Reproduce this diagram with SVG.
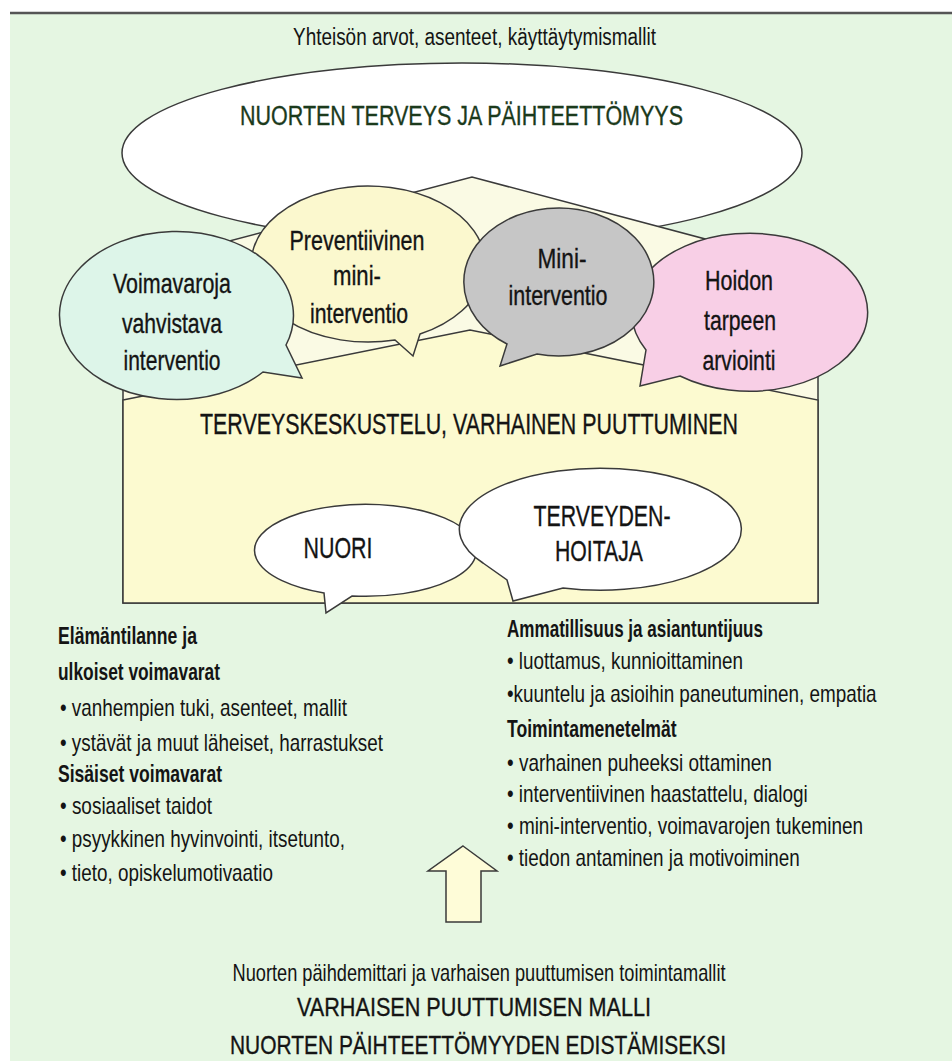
<svg xmlns="http://www.w3.org/2000/svg" width="952" height="1061" viewBox="0 0 952 1061">
<style>
.t{font-family:"Liberation Sans Narrow","Arial Narrow","Liberation Sans",Arial,sans-serif;fill:#141414}
.h{stroke:#141414;stroke-width:0.35}
.s{stroke:#3a3a3a;stroke-width:1.5}
.c{text-anchor:middle}
.f23{font-size:23px}
.f24{font-size:24px}
.f26{font-size:26px}
.f27{font-size:27px}
.f28{font-size:28px}
.f29{font-size:29px}
.f30{font-size:30px}
.b{font-weight:bold}
</style>
<g id="background">
<rect x="0" y="0" width="952" height="1061" fill="#ffffff"/>
<rect x="10" y="14" width="942" height="1047" fill="#E5F6E2"/>
<line x1="10" y1="13" x2="952" y2="13" stroke="#555555" stroke-width="2.5"/>
<text class="t c f23" x="474.5" y="45" textLength="363" lengthAdjust="spacingAndGlyphs">Yhteisön arvot, asenteet, käyttäytymismallit</text>
</g>
<g id="node-terveys">
<ellipse cx="462" cy="153" rx="340" ry="90" fill="#ffffff" class="s"/>
<text class="t c f27 h" x="461.5" y="125" textLength="443" lengthAdjust="spacingAndGlyphs" style="fill:#1B3A1C;stroke:#1B3A1C">NUORTEN TERVEYS JA PÄIHTEETTÖMYYS</text>
</g>
<g id="node-house">
<polygon points="123,269 472,177 818,269 818,603 123,603" fill="#FAFAE4" class="s"/>
<polygon points="123,400 470,330 818,400 818,603 123,603" fill="#FCFAD0" class="s"/>
<text class="t c f29 h" x="469" y="434" textLength="538" lengthAdjust="spacingAndGlyphs">TERVEYSKESKUSTELU, VARHAINEN PUUTTUMINEN</text>
</g>
<g id="node-preventiivinen">
<path d="M 420,334 A 117 78 0 1 0 395,340 L 413,356 Z" fill="#FBF8CE" class="s"/>
<text class="t c f28 h" x="357" y="250" textLength="135" lengthAdjust="spacingAndGlyphs">Preventiivinen</text>
<text class="t c f28 h" x="357" y="285" textLength="48" lengthAdjust="spacingAndGlyphs">mini-</text>
<text class="t c f28 h" x="359" y="323" textLength="98" lengthAdjust="spacingAndGlyphs">interventio</text>
</g>
<g id="node-voimavaroja">
<path d="M 286,345 A 117 84 0 1 0 263,372 L 302,378 Z" fill="#DDF5E9" class="s"/>
<text class="t c f28 h" x="172" y="293" textLength="118" lengthAdjust="spacingAndGlyphs">Voimavaroja</text>
<text class="t c f28 h" x="172" y="333" textLength="100" lengthAdjust="spacingAndGlyphs">vahvistava</text>
<text class="t c f28 h" x="172" y="370" textLength="97" lengthAdjust="spacingAndGlyphs">interventio</text>
</g>
<g id="node-hoidon">
<path d="M 680,376 A 118 79 0 1 0 646,350 L 640,386 Z" fill="#F8CFE6" class="s"/>
<text class="t c f28 h" x="739" y="290" textLength="68" lengthAdjust="spacingAndGlyphs">Hoidon</text>
<text class="t c f28 h" x="740" y="330" textLength="72" lengthAdjust="spacingAndGlyphs">tarpeen</text>
<text class="t c f28 h" x="739" y="370" textLength="73" lengthAdjust="spacingAndGlyphs">arviointi</text>
</g>
<g id="node-mini">
<path d="M 537,354 A 95 74 0 1 0 507,344 L 500,366 Z" fill="#C6C6C6" class="s"/>
<text class="t c f28 h" x="562" y="268" textLength="49" lengthAdjust="spacingAndGlyphs">Mini-</text>
<text class="t c f28 h" x="558" y="305" textLength="99" lengthAdjust="spacingAndGlyphs">interventio</text>
</g>
<g id="node-nuori">
<path d="M 352,596 A 111 46 0 1 0 324,593 L 326,613 Z" fill="#ffffff" class="s"/>
<text class="t c f30 h" x="338" y="558" textLength="69" lengthAdjust="spacingAndGlyphs">NUORI</text>
</g>
<g id="node-terveydenhoitaja">
<path d="M 563,588 A 141 61 0 1 0 483,563 L 507,580 L 513,601 Z" fill="#ffffff" class="s"/>
<text class="t c f30 h" x="602" y="526" textLength="137" lengthAdjust="spacingAndGlyphs">TERVEYDEN-</text>
<text class="t c f30 h" x="599" y="561" textLength="88" lengthAdjust="spacingAndGlyphs">HOITAJA</text>
</g>
<g id="text-left">
<text class="t f24 b" x="58" y="644" textLength="139" lengthAdjust="spacingAndGlyphs">Elämäntilanne ja</text>
<text class="t f24 b" x="58" y="680" textLength="162" lengthAdjust="spacingAndGlyphs">ulkoiset voimavarat</text>
<text class="t f24" x="60" y="716" textLength="287" lengthAdjust="spacingAndGlyphs">• vanhempien tuki, asenteet, mallit</text>
<text class="t f24" x="60" y="751" textLength="323" lengthAdjust="spacingAndGlyphs">• ystävät ja muut läheiset, harrastukset</text>
<text class="t f24 b" x="58" y="782" textLength="164" lengthAdjust="spacingAndGlyphs">Sisäiset voimavarat</text>
<text class="t f24" x="60" y="814" textLength="152" lengthAdjust="spacingAndGlyphs">• sosiaaliset taidot</text>
<text class="t f24" x="60" y="847" textLength="285" lengthAdjust="spacingAndGlyphs">• psyykkinen hyvinvointi, itsetunto,</text>
<text class="t f24" x="60" y="881" textLength="213" lengthAdjust="spacingAndGlyphs">• tieto, opiskelumotivaatio</text>
</g>
<g id="text-right" transform="translate(507,0) scale(0.8,1)">
<text class="t f24 b" x="0" y="637" textLength="320" lengthAdjust="spacingAndGlyphs">Ammatillisuus ja asiantuntijuus</text>
<text class="t f24" x="0" y="669" textLength="295" lengthAdjust="spacingAndGlyphs">• luottamus, kunnioittaminen</text>
<text class="t f24" x="0" y="702" textLength="462" lengthAdjust="spacingAndGlyphs">•kuuntelu ja asioihin paneutuminen, empatia</text>
<text class="t f24 b" x="0" y="737" textLength="212" lengthAdjust="spacingAndGlyphs">Toimintamenetelmät</text>
<text class="t f24" x="0" y="771" textLength="331" lengthAdjust="spacingAndGlyphs">• varhainen puheeksi ottaminen</text>
<text class="t f24" x="0" y="802" textLength="376" lengthAdjust="spacingAndGlyphs">• interventiivinen haastattelu, dialogi</text>
<text class="t f24" x="0" y="834" textLength="445" lengthAdjust="spacingAndGlyphs">• mini-interventio, voimavarojen tukeminen</text>
<text class="t f24" x="0" y="866" textLength="366" lengthAdjust="spacingAndGlyphs">• tiedon antaminen ja motivoiminen</text>
</g>
<g id="connectors">
<polygon points="463,846 497,871 481,871 481,922 446,922 446,871 428,871" fill="#FEFCD8" class="s"/>
</g>
<g id="text-bottom">
<text class="t c f24" x="479" y="981" textLength="493" lengthAdjust="spacingAndGlyphs">Nuorten päihdemittari ja varhaisen puuttumisen toimintamallit</text>
<text class="t c f26 h" x="474" y="1016" textLength="354" lengthAdjust="spacingAndGlyphs">VARHAISEN PUUTTUMISEN MALLI</text>
<text class="t c f26 h" x="478" y="1054" textLength="496" lengthAdjust="spacingAndGlyphs">NUORTEN PÄIHTEETTÖMYYDEN EDISTÄMISEKSI</text>
</g>
</svg>
